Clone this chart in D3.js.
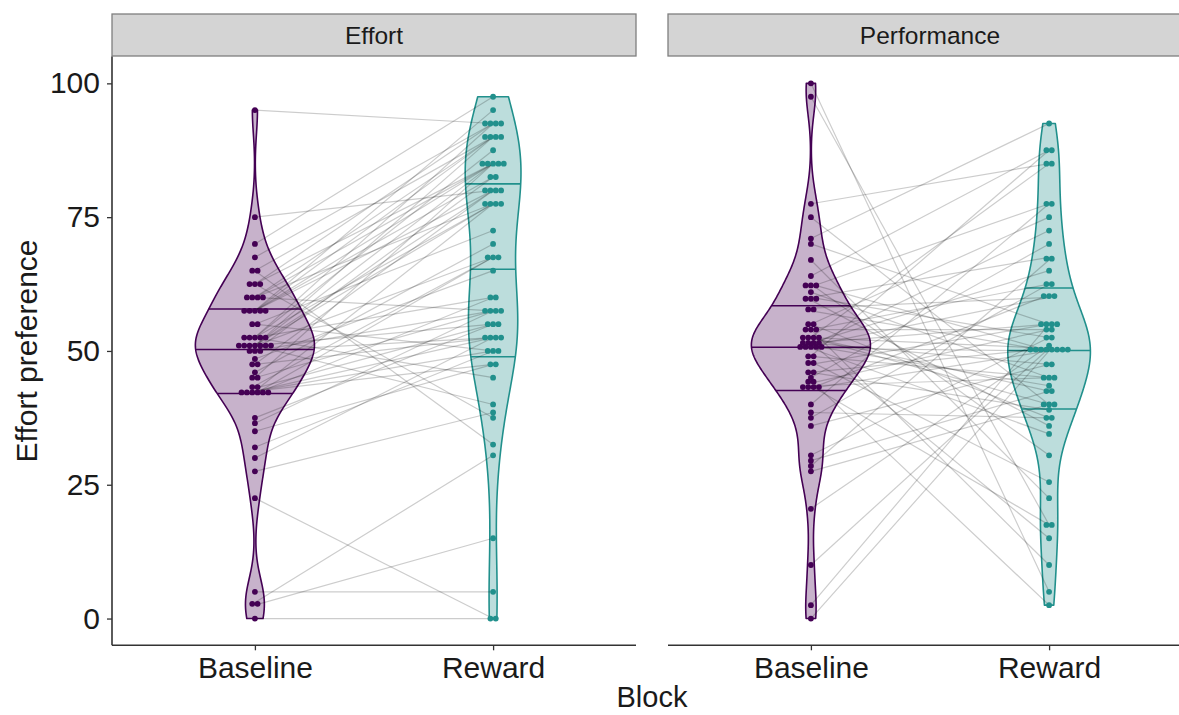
<!DOCTYPE html>
<html><head><meta charset="utf-8">
<script src="https://cdn.jsdelivr.net/npm/d3@7"></script>
<style>
body{margin:0;background:#fff;}
text{font-family:"Liberation Sans", Arial, Helvetica, sans-serif;}
</style>
</head><body>
<svg id="chart" width="1179" height="715"></svg>
<script>
// ---------- data ----------
const facets = ["Effort", "Performance"];
const blocks = ["Baseline", "Reward"];
const yTicks = [0, 25, 50, 75, 100];
const yTitle = "Effort preference";
const xTitle = "Block";

// participant-level values (same order in Baseline / Reward arrays)
const effortBaseline = [95, 75, 70, 67.5, 65, 65, 62.5, 62.5, 62.5, 60, 60, 60, 60, 57.5, 57.5,
  57.5, 57.5, 57.5, 55, 55, 52.5, 52.5, 52.5, 52.5, 52.5, 51, 51, 51, 51, 51,
  51, 51, 50, 50, 50, 48.5, 47.5, 47.5, 46, 45, 45, 43.5, 43, 42.5, 42.5,
  42.5, 42, 42.5, 42, 37.5, 36.5, 35, 32, 30, 27.5, 22.5, 5, 3, 2.5, 0];
const effortReward = [92.5, 80, 97.5, 92.5, 32.5, 90, 37.5, 92.5, 85, 90, 77.5, 85, 57.5, 95, 82.5,
  90, 85, 80, 50, 72.5, 87.5, 77.5, 92.5, 60, 45, 85, 80, 67.5, 55, 40,
  90, 77.5, 57.5, 52.5, 82.5, 65, 80, 52.5, 70, 85, 57.5, 67.5, 55, 77.5, 50,
  47.5, 60, 52.5, 67.5, 55, 57.5, 47.5, 50, 52.5, 38.5, 0, 5, 30.5, 15, 0];

const performanceBaseline = [100, 97.5, 77.5, 75, 71, 70, 67, 64, 62.5, 62.5, 62, 61, 60, 60, 59.5,
  58, 57.5, 55, 55, 54, 54, 54, 52.5, 52.5, 52.5, 52.5, 51.5, 51.5, 51.5, 51.5,
  51, 51, 51, 50.5, 50.5, 49, 49, 48, 47.5, 46, 46, 45, 44.5, 44, 43.5,
  43, 43.5, 43, 40, 38.5, 37.5, 36, 30.5, 29.5, 28.5, 27.5, 20.5, 10, 2.5, 0];
const performanceReward = [5, 17.5, 85, 40, 92.5, 55, 22.5, 87.5, 50, 30.5, 77.5, 45, 67.5, 52.5, 36,
  60, 50, 75, 37.5, 54, 10, 62.5, 42.5, 85, 50.5, 40, 65, 47.5, 15, 55,
  72.5, 43.5, 60, 34.5, 50, 87.5, 45, 25.5, 55, 50.5, 39, 70, 2.5, 54, 45,
  60.5, 17.5, 50, 77.5, 37.5, 62.5, 47.5, 52.5, 42.5, 67, 40, 51, 50.5, 55, 50];

const blockColors = ["#440154", "#21908C"];

// ---------- layout ----------
const W = 1179, H = 715;
const panels = [{left: 112, right: 636}, {left: 668, right: 1192}];
const plotTop = 56.6, plotBottom = 645.3;
const stripTop = 14, stripBottom = 56;

const svg = d3.select("#chart");
svg.append("rect").attr("width", W).attr("height", H).attr("fill", "#fff");

const y = d3.scaleLinear().domain([-5, 105]).range([plotBottom, plotTop]);

const facetData = [
  {name: facets[0], groups: [effortBaseline, effortReward]},
  {name: facets[1], groups: [performanceBaseline, performanceReward]}
];

function kde(values) {
  const s = values.slice().sort(d3.ascending);
  const n = s.length;
  const sd = d3.deviation(s);
  const iqr = d3.quantileSorted(s, 0.75) - d3.quantileSorted(s, 0.25);
  const bw = 0.9 * Math.min(sd, iqr / 1.34) * Math.pow(n, -0.2);
  const lo = s[0], hi = s[n - 1];
  const pts = [];
  for (let i = 0; i < 512; i++) {
    const yv = lo + (hi - lo) * i / 511;
    let sum = 0;
    for (const v of s) { const u = (yv - v) / bw; sum += Math.exp(-0.5 * u * u); }
    pts.push({y: yv, d: sum / (n * bw * Math.sqrt(2 * Math.PI))});
  }
  return pts;
}

function quantileYs(pts, qs) {
  const tot = d3.sum(pts, d => d.d);
  let c = 0;
  const cum = pts.map(p => (c += p.d) / tot);
  return qs.map(q => {
    let i = cum.findIndex(v => v >= q);
    if (i <= 0) return pts[0].y;
    const t = (q - cum[i - 1]) / (cum[i] - cum[i - 1]);
    return pts[i - 1].y + t * (pts[i].y - pts[i - 1].y);
  });
}

function widthAt(pts, yv) {
  for (let i = 1; i < pts.length; i++) {
    if (pts[i].y >= yv) {
      const t = (yv - pts[i - 1].y) / (pts[i].y - pts[i - 1].y);
      return pts[i - 1].w + t * (pts[i].w - pts[i - 1].w);
    }
  }
  return pts[pts.length - 1].w;
}

function dotBins(values, bw) {
  const s = values.slice().sort(d3.ascending);
  const bins = [];
  let i = 0;
  while (i < s.length) {
    const start = s[i];
    const b = [];
    while (i < s.length && s[i] < start + bw) { b.push(s[i]); i++; }
    bins.push({center: (b[0] + b[b.length - 1]) / 2, count: b.length});
  }
  return bins;
}

facetData.forEach((fd, pi) => {
  const P = panels[pi];
  const x = d3.scalePoint().domain(blocks).range([P.left, P.right]).padding(0.6);
  const step = x.step();
  const halfMax = step * 0.5 / 2;

  const g = svg.append("g");

  // strip
  g.append("rect").attr("x", P.left).attr("y", stripTop)
    .attr("width", P.right - P.left).attr("height", stripBottom - stripTop)
    .attr("fill", "#d4d4d4").attr("stroke", "#7f7f7f").attr("stroke-width", 1.3);
  g.append("text").attr("x", (P.left + P.right) / 2).attr("y", (stripTop + stripBottom) / 2)
    .attr("text-anchor", "middle").attr("dominant-baseline", "central")
    .attr("font-size", 24.5).attr("fill", "#1a1a1a").text(fd.name);

  // densities
  const dens = fd.groups.map(v => kde(v));
  const maxD = d3.max(dens, ds => d3.max(ds, p => p.d));
  dens.forEach(ds => ds.forEach(p => p.w = p.d / maxD * halfMax));

  const plot = g.append("g");

  // violins
  dens.forEach((ds, gi) => {
    const cx = x(blocks[gi]);
    const col = blockColors[gi];
    const area = d3.area().y(p => y(p.y)).x0(p => cx - p.w).x1(p => cx + p.w);
    plot.append("path").datum(ds).attr("d", area)
      .attr("fill", col).attr("fill-opacity", 0.3)
      .attr("stroke", col).attr("stroke-width", 1.6).attr("stroke-linejoin", "round");
    const qy = quantileYs(ds, [0.25, 0.5, 0.75]);
    qy.forEach(qv => {
      const w = widthAt(ds, qv);
      plot.append("line").attr("x1", cx - w).attr("x2", cx + w)
        .attr("y1", y(qv)).attr("y2", y(qv))
        .attr("stroke", col).attr("stroke-width", 1.6);
    });
  });

  // paired lines
  const b = fd.groups[0], r = fd.groups[1];
  plot.append("g").selectAll("line").data(d3.range(b.length)).join("line")
    .attr("x1", x(blocks[0])).attr("x2", x(blocks[1]))
    .attr("y1", i => y(b[i])).attr("y2", i => y(r[i]))
    .attr("stroke", "#000").attr("stroke-opacity", 0.2).attr("stroke-width", 1.2);

  // dots
  const dotD = y(0) - y(1);
  fd.groups.forEach((vals, gi) => {
    const cx = x(blocks[gi]);
    const bins = dotBins(vals, 1);
    const dots = [];
    bins.forEach(bn => {
      for (let k = 0; k < bn.count; k++) {
        dots.push({x: cx + (k - (bn.count - 1) / 2) * dotD, y: y(bn.center)});
      }
    });
    plot.append("g").selectAll("circle").data(dots).join("circle")
      .attr("cx", d => d.x).attr("cy", d => d.y).attr("r", 2.9)
      .attr("fill", blockColors[gi]);
  });

  // x axis
  const xa = g.append("g").attr("transform", `translate(0,${plotBottom})`);
  xa.append("line").attr("x1", P.left).attr("x2", P.right).attr("y1", 0).attr("y2", 0)
    .attr("stroke", "#333").attr("stroke-width", 1.6);
  const ax = d3.axisBottom(x).tickSize(5).tickPadding(6);
  const axg = xa.append("g").call(ax);
  axg.select(".domain").remove();
  axg.selectAll(".tick line").attr("stroke", "#333").attr("stroke-width", 1.3);
  axg.selectAll(".tick text").attr("font-size", 30).attr("fill", "#1a1a1a")
    .attr("font-family", "Liberation Sans, Arial, sans-serif").attr("dy", "0.71em");

  // y axis only on first panel
  if (pi === 0) {
    const ya = g.append("g").attr("transform", `translate(${P.left},0)`);
    ya.append("line").attr("x1", 0).attr("x2", 0).attr("y1", plotTop).attr("y2", plotBottom)
      .attr("stroke", "#333").attr("stroke-width", 1.6);
    const ay = d3.axisLeft(y).tickValues(yTicks).tickSize(5).tickPadding(7);
    const ayg = ya.append("g").call(ay);
    ayg.select(".domain").remove();
    ayg.selectAll(".tick line").attr("stroke", "#333").attr("stroke-width", 1.3);
    ayg.selectAll(".tick text").attr("font-size", 30).attr("fill", "#1a1a1a")
      .attr("font-family", "Liberation Sans, Arial, sans-serif");
  }
});

// axis titles
svg.append("text").attr("x", (panels[0].left + panels[1].right) / 2).attr("y", 707)
  .attr("text-anchor", "middle").attr("font-size", 29).attr("fill", "#1a1a1a").text(xTitle);
svg.append("text").attr("transform", `translate(37,${(plotTop + plotBottom) / 2}) rotate(-90)`)
  .attr("text-anchor", "middle").attr("font-size", 30).attr("fill", "#1a1a1a").text(yTitle);
</script>
</body></html>
